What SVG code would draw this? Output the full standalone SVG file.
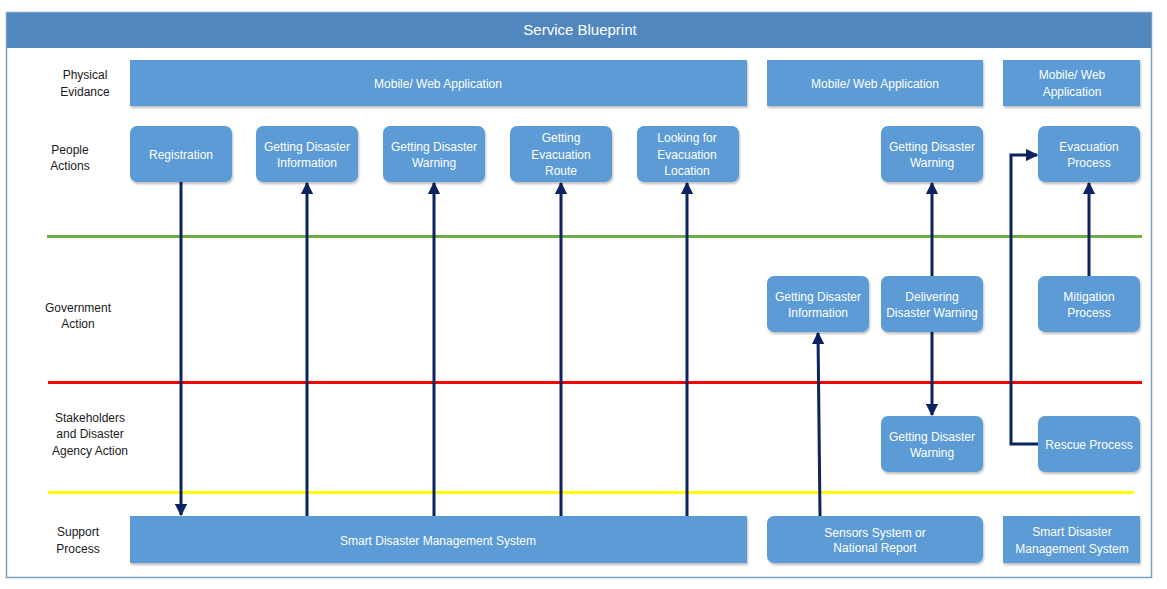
<svg xmlns="http://www.w3.org/2000/svg" width="1167" height="589" viewBox="0 0 1167 589">
<defs>
<style>
.box{fill:#5B9BD5;filter:url(#sh);}
.bt{fill:#ffffff;font-family:"Liberation Sans",Arial,sans-serif;font-size:12px;text-anchor:middle;}
.lt{fill:#1a1a1a;font-family:"Liberation Sans",Arial,sans-serif;font-size:12px;text-anchor:middle;}
.con{stroke:#0B2361;stroke-width:3;fill:none;}
</style>
<filter id="sh" x="-10%" y="-10%" width="120%" height="130%">
<feDropShadow dx="1" dy="2" stdDeviation="1.2" flood-color="#000" flood-opacity="0.25"/>
</filter>
<marker id="ah" viewBox="0 0 10 10" refX="9" refY="5" markerWidth="4.2" markerHeight="4.2" orient="auto" markerUnits="strokeWidth">
<path d="M0,0 L10,5 L0,10 Z" fill="#0B2361"/>
</marker>
</defs>
<rect width="1167" height="589" fill="#ffffff"/>
<g id="frame">
<rect x="6.5" y="12.5" width="1145" height="565" fill="#ffffff" stroke="#7F9DBF" stroke-width="1.5"/>
<rect x="7" y="13" width="1144" height="35" fill="#4F87BE"/>
<text x="580" y="35" fill="#ffffff" font-family="'Liberation Sans',Arial,sans-serif" font-size="15" text-anchor="middle">Service Blueprint</text>
</g>
<g id="lanes">
<line x1="47" y1="236.5" x2="1142" y2="236.5" stroke="#70AD47" stroke-width="3"/>
<line x1="48" y1="382.5" x2="1142" y2="382.5" stroke="#FF0000" stroke-width="3"/>
<line x1="48" y1="492.5" x2="1134" y2="492.5" stroke="#FFFF00" stroke-width="3"/>
</g>
<g id="labels">
<text class="lt" x="85" y="79">Physical</text><text class="lt" x="85" y="96">Evidance</text>
<text class="lt" x="70" y="154">People</text><text class="lt" x="70" y="170">Actions</text>
<text class="lt" x="78" y="312">Government</text><text class="lt" x="78" y="328">Action</text>
<text class="lt" x="90" y="422">Stakeholders</text><text class="lt" x="90" y="438">and Disaster</text><text class="lt" x="90" y="455">Agency Action</text>
<text class="lt" x="78" y="536">Support</text><text class="lt" x="78" y="553">Process</text>
</g>
<g id="connectors">
<line class="con" x1="181" y1="182" x2="181" y2="515" marker-end="url(#ah)"/>
<line class="con" x1="307" y1="516" x2="307" y2="183" marker-end="url(#ah)"/>
<line class="con" x1="434" y1="516" x2="434" y2="183" marker-end="url(#ah)"/>
<line class="con" x1="561" y1="516" x2="561" y2="183" marker-end="url(#ah)"/>
<line class="con" x1="687" y1="516" x2="687" y2="183" marker-end="url(#ah)"/>
<line class="con" x1="932" y1="276" x2="932" y2="183" marker-end="url(#ah)"/>
<line class="con" x1="932" y1="332" x2="932" y2="415" marker-end="url(#ah)"/>
<line class="con" x1="820" y1="516" x2="818" y2="333" marker-end="url(#ah)"/>
<polyline class="con" points="1038,444 1011,444 1011,155 1037,155" marker-end="url(#ah)"/>
<line class="con" x1="1089" y1="276" x2="1089" y2="183" marker-end="url(#ah)"/>
</g>
<g id="pe1"><rect class="box" x="130" y="60" width="617" height="46"/><text class="bt" x="438" y="88">Mobile/ Web Application</text></g>
<g id="pe2"><rect class="box" x="767" y="60" width="216" height="46"/><text class="bt" x="875" y="88">Mobile/ Web Application</text></g>
<g id="pe3"><rect class="box" x="1003" y="60" width="137" height="46"/><text class="bt" x="1072" y="79">Mobile/ Web</text><text class="bt" x="1072" y="96">Application</text></g>
<g id="pa1"><rect class="box" x="130" y="126" width="102" height="56" rx="7"/><text class="bt" x="181" y="159">Registration</text></g>
<g id="pa2"><rect class="box" x="256" y="126" width="102" height="56" rx="7"/><text class="bt" x="307" y="151">Getting Disaster</text><text class="bt" x="307" y="167">Information</text></g>
<g id="pa3"><rect class="box" x="383" y="126" width="102" height="56" rx="7"/><text class="bt" x="434" y="151">Getting Disaster</text><text class="bt" x="434" y="167">Warning</text></g>
<g id="pa4"><rect class="box" x="510" y="126" width="102" height="56" rx="7"/><text class="bt" x="561" y="142">Getting</text><text class="bt" x="561" y="159">Evacuation</text><text class="bt" x="561" y="175">Route</text></g>
<g id="pa5"><rect class="box" x="637" y="126" width="102" height="56" rx="7"/><text class="bt" x="687" y="142">Looking for</text><text class="bt" x="687" y="159">Evacuation</text><text class="bt" x="687" y="175">Location</text></g>
<g id="pa6"><rect class="box" x="881" y="126" width="102" height="56" rx="7"/><text class="bt" x="932" y="151">Getting Disaster</text><text class="bt" x="932" y="167">Warning</text></g>
<g id="pa7"><rect class="box" x="1038" y="126" width="102" height="56" rx="7"/><text class="bt" x="1089" y="151">Evacuation</text><text class="bt" x="1089" y="167">Process</text></g>
<g id="ga1"><rect class="box" x="767" y="276" width="102" height="56" rx="7"/><text class="bt" x="818" y="301">Getting Disaster</text><text class="bt" x="818" y="317">Information</text></g>
<g id="ga2"><rect class="box" x="881" y="276" width="102" height="56" rx="7"/><text class="bt" x="932" y="301">Delivering</text><text class="bt" x="932" y="317">Disaster Warning</text></g>
<g id="ga3"><rect class="box" x="1038" y="276" width="102" height="56" rx="7"/><text class="bt" x="1089" y="301">Mitigation</text><text class="bt" x="1089" y="317">Process</text></g>
<g id="sa1"><rect class="box" x="881" y="416" width="102" height="56" rx="7"/><text class="bt" x="932" y="441">Getting Disaster</text><text class="bt" x="932" y="457">Warning</text></g>
<g id="sa2"><rect class="box" x="1038" y="416" width="102" height="56" rx="7"/><text class="bt" x="1089" y="449">Rescue Process</text></g>
<g id="sp1"><rect class="box" x="130" y="516" width="617" height="47"/><text class="bt" x="438" y="545">Smart Disaster Management System</text></g>
<g id="sp2"><rect class="box" x="767" y="516" width="216" height="47" rx="7"/><text class="bt" x="875" y="537" font-size="11">Sensors System or</text><text class="bt" x="875" y="552" font-size="11">National Report</text></g>
<g id="sp3"><rect class="box" x="1003" y="516" width="137" height="47"/><text class="bt" x="1072" y="536">Smart Disaster</text><text class="bt" x="1072" y="553">Management System</text></g>
</svg>
